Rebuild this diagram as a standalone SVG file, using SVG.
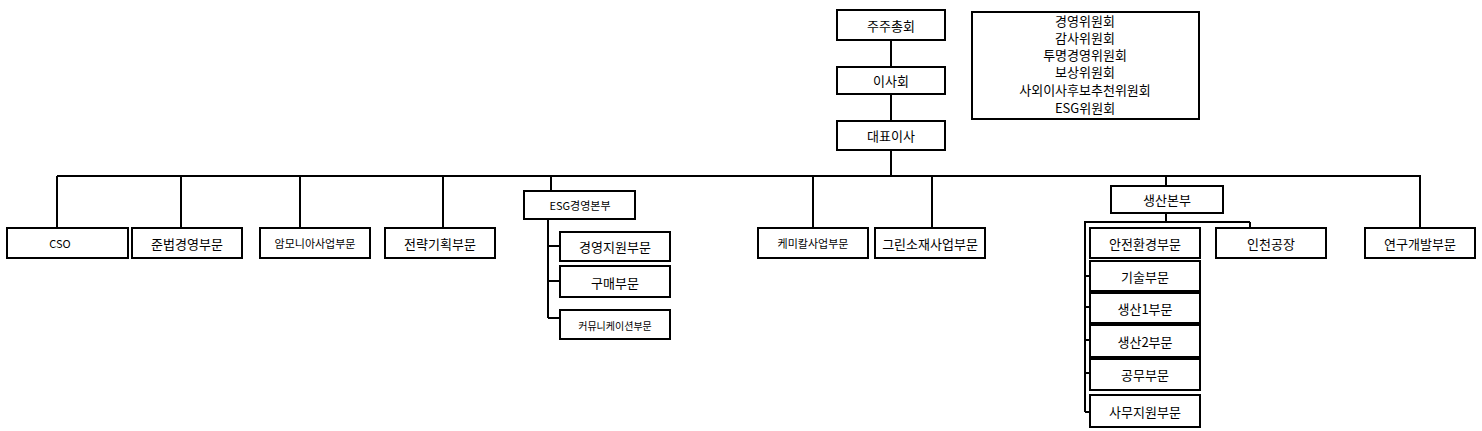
<svg xmlns="http://www.w3.org/2000/svg" width="1482" height="431" viewBox="0 0 1482 431">
<style>
rect{fill:#fff;stroke:#000;stroke-width:2}
text{font-family:"Noto Sans CJK KR","Liberation Sans",sans-serif;font-size:13px;text-anchor:middle;dominant-baseline:central;fill:#000}
.s{font-size:11px}
.c line{stroke:#000;stroke-width:2}
</style>
<rect x="0" y="0" width="1482" height="431" style="fill:#fff;stroke:none"/>
<g class="c">
<line x1="891" y1="40" x2="891" y2="67"/><line x1="891" y1="94" x2="891" y2="121"/><line x1="891" y1="150" x2="891" y2="176"/>
<line x1="57" y1="176" x2="1421" y2="176"/>
<line x1="57" y1="176" x2="57" y2="228"/><line x1="181" y1="176" x2="181" y2="228"/><line x1="300" y1="176" x2="300" y2="228"/><line x1="443" y1="176" x2="443" y2="228"/>
<line x1="551" y1="176" x2="551" y2="191"/><line x1="813" y1="176" x2="813" y2="228"/><line x1="932" y1="176" x2="932" y2="228"/>
<line x1="1166" y1="176" x2="1166" y2="186"/><line x1="1420" y1="176" x2="1420" y2="228"/>
<line x1="548" y1="219" x2="548" y2="318"/><line x1="548" y1="246" x2="560" y2="246"/><line x1="548" y1="281" x2="560" y2="281"/><line x1="548" y1="318" x2="560" y2="318"/>
<line x1="1166" y1="213" x2="1166" y2="222"/><line x1="1084" y1="222" x2="1250" y2="222"/><line x1="1250" y1="222" x2="1250" y2="228"/>
<line x1="1085" y1="222" x2="1085" y2="412"/>
<line x1="1085" y1="276" x2="1090" y2="276"/><line x1="1085" y1="307" x2="1090" y2="307"/><line x1="1085" y1="340" x2="1090" y2="340"/><line x1="1085" y1="373" x2="1090" y2="373"/><line x1="1085" y1="412" x2="1090" y2="412"/>
</g>
<g id="n-shareholders"><rect x="837" y="10" width="108" height="30"/><text x="891" y="25">주주총회</text></g>
<g id="n-board"><rect x="837" y="67" width="108" height="27"/><text x="891" y="80">이사회</text></g>
<g id="n-ceo"><rect x="837" y="121" width="108" height="29"/><text x="891" y="135">대표이사</text></g>
<g id="n-committees"><rect x="972" y="12" width="227" height="107"/>
<text x="1085" y="20">경영위원회</text><text x="1085" y="37">감사위원회</text><text x="1085" y="54">투명경영위원회</text><text x="1085" y="71">보상위원회</text><text x="1085" y="89">사외이사후보추천위원회</text><text x="1085" y="107">ESG위원회</text></g>
<g id="n-cso"><rect x="7" y="228" width="121" height="30"/><text class="s" x="60" y="243">CSO</text></g>
<g id="n-compliance"><rect x="132" y="228" width="110" height="30"/><text x="187" y="243">준법경영부문</text></g>
<g id="n-ammonia"><rect x="260" y="228" width="110" height="30"/><text class="s" x="315" y="243">암모니아사업부문</text></g>
<g id="n-strategy"><rect x="385" y="228" width="110" height="30"/><text x="440" y="243">전략기획부문</text></g>
<g id="n-esg"><rect x="524" y="191" width="111" height="28"/><text class="s" x="580" y="205">ESG경영본부</text></g>
<g id="n-mgmt"><rect x="560" y="232" width="110" height="29"/><text x="615" y="246">경영지원부문</text></g>
<g id="n-purchase"><rect x="560" y="266" width="110" height="31"/><text x="615" y="282">구매부문</text></g>
<g id="n-comm"><rect x="560" y="310" width="110" height="29"/><text class="s" style="font-size:10px" x="615" y="325">커뮤니케이션부문</text></g>
<g id="n-chem"><rect x="758" y="228" width="110" height="30"/><text class="s" x="813" y="243">케미칼사업부문</text></g>
<g id="n-green"><rect x="875" y="228" width="110" height="30"/><text x="930" y="243">그린소재사업부문</text></g>
<g id="n-prod"><rect x="1111" y="186" width="112" height="27"/><text x="1167" y="199">생산본부</text></g>
<g id="n-safety"><rect x="1090" y="228" width="110" height="30"/><text x="1145" y="243">안전환경부문</text></g>
<g id="n-incheon"><rect x="1216" y="228" width="110" height="30"/><text x="1271" y="243">인천공장</text></g>
<g id="n-rnd"><rect x="1365" y="228" width="110" height="30"/><text x="1420" y="243">연구개발부문</text></g>
<g id="n-tech"><rect x="1090" y="261" width="110" height="30"/><text x="1145" y="276">기술부문</text></g>
<g id="n-p1"><rect x="1090" y="293" width="110" height="30"/><text x="1145" y="308">생산1부문</text></g>
<g id="n-p2"><rect x="1090" y="325" width="110" height="32"/><text x="1145" y="341">생산2부문</text></g>
<g id="n-eng"><rect x="1090" y="359" width="110" height="31"/><text x="1145" y="374">공무부문</text></g>
<g id="n-office"><rect x="1090" y="395" width="110" height="32"/><text x="1145" y="411">사무지원부문</text></g>
</svg>
